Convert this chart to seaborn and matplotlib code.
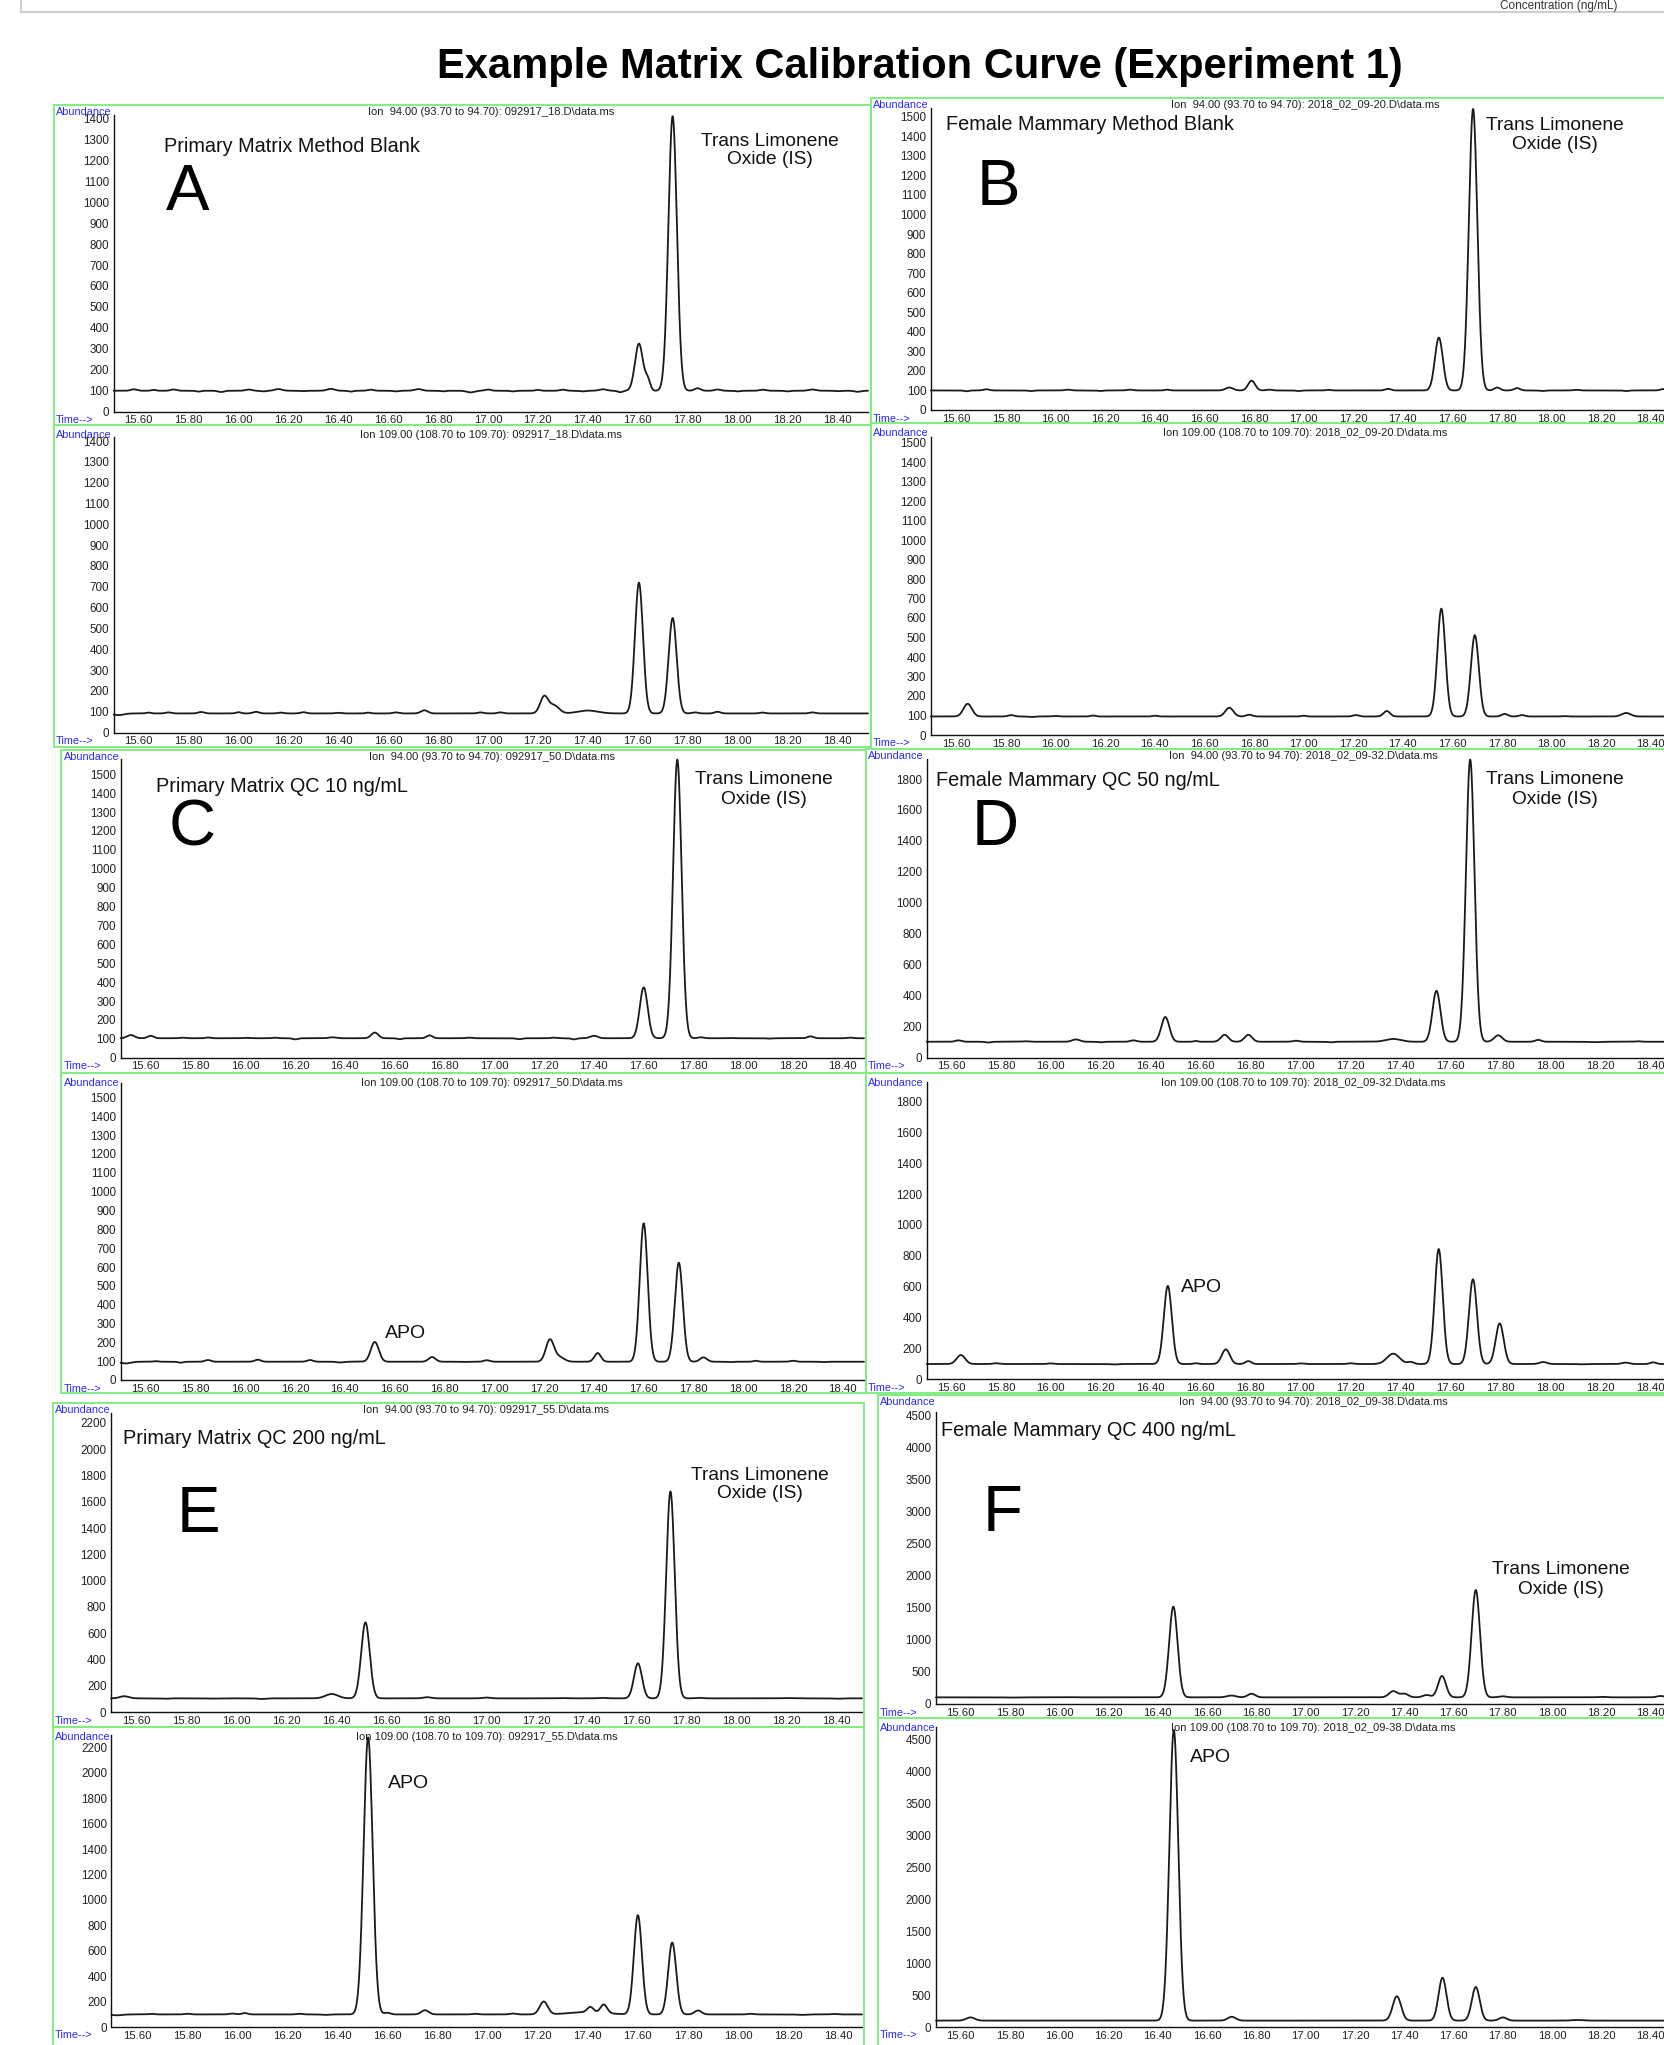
import numpy as np
import pandas as pd
import matplotlib
matplotlib.use("Agg")
import matplotlib.pyplot as plt
import seaborn as sns
from matplotlib.patches import Rectangle
from matplotlib.lines import Line2D
from matplotlib.ticker import MultipleLocator

# ------------------------------------------------------------------ data
TITLE = "Example Matrix Calibration Curve (Experiment 1)"
TOP_STRIP_TEXT = "Concentration (ng/mL)"
panel_letters = ["A", "B", "C", "D", "E", "F"]
sample_names = ["Primary Matrix Method Blank", "Female Mammary Method Blank",
                "Primary Matrix QC 10 ng/mL", "Female Mammary QC 50 ng/mL",
                "Primary Matrix QC 200 ng/mL", "Female Mammary QC 400 ng/mL"]
data_files = ["092917_18.D", "2018_02_09-20.D", "092917_50.D",
              "2018_02_09-32.D", "092917_55.D", "2018_02_09-38.D"]
ion_headers = ["Ion  94.00 (93.70 to 94.70): ", "Ion 109.00 (108.70 to 109.70): "]
is_label = ["Trans Limonene", "Oxide (IS)"]
apo_label = "APO"

x_ticks = [15.60, 15.80, 16.00, 16.20, 16.40, 16.60, 16.80, 17.00,
           17.20, 17.40, 17.60, 17.80, 18.00, 18.20, 18.40]
y_ticks_A = list(range(0, 1401, 100))
y_ticks_B = list(range(0, 1501, 100))
y_ticks_C = list(range(0, 1501, 100))
y_ticks_D = list(range(0, 1801, 200))
y_ticks_E = list(range(0, 2201, 200))
y_ticks_F = list(range(0, 4501, 500))

# peak tables: (retention time, apex abundance, peak sigma)
A94_base = 100
A94_peaks = [(15.58, 107, 0.012), (15.66, 104, 0.010), (15.74, 106, 0.012), (15.84, 96, 0.010),
             (15.93, 94, 0.012), (16.04, 106, 0.012), (16.10, 97, 0.010),
             (16.16, 108, 0.015), (16.26, 98, 0.010), (16.37, 109, 0.015), (16.45, 96, 0.010),
             (16.53, 105, 0.012), (16.63, 97, 0.010), (16.72, 108, 0.015), (16.82, 97, 0.010),
             (16.93, 92, 0.015), (17.00, 106, 0.012), (17.10, 97, 0.010), (17.20, 104, 0.010),
             (17.30, 105, 0.012), (17.38, 97, 0.010), (17.46, 107, 0.015),
             (17.53, 93, 0.010), (17.605, 325, 0.016), (17.64, 150, 0.010), (17.740, 1410, 0.017),
             (17.84, 112, 0.012), (17.92, 106, 0.012), (18.00, 97, 0.010), (18.10, 105, 0.012),
             (18.20, 97, 0.010), (18.30, 106, 0.015), (18.40, 98, 0.010), (18.48, 95, 0.012)]
A109_base = 92
A109_peaks = [(15.52, 84, 0.02), (15.64, 96, 0.010), (15.72, 97, 0.012), (15.85, 99, 0.012),
              (16.00, 98, 0.010), (16.07, 100, 0.012), (16.17, 96, 0.012), (16.26, 98, 0.012),
              (16.40, 95, 0.012), (16.52, 96, 0.010), (16.63, 97, 0.012),
              (16.745, 107, 0.014), (16.97, 97, 0.012), (17.05, 97, 0.012), (17.225, 172, 0.016),
              (17.265, 130, 0.020), (17.40, 106, 0.040), (17.605, 720, 0.016), (17.740, 550, 0.016),
              (17.83, 97, 0.012), (17.92, 100, 0.012), (18.10, 96, 0.012), (18.30, 97, 0.012)]
B94_base = 100
B94_peaks = [(15.64, 96, 0.010), (15.72, 106, 0.012), (15.90, 97, 0.010), (16.05, 104, 0.012),
             (16.18, 97, 0.010), (16.30, 104, 0.012), (16.45, 104, 0.010), (16.70, 115, 0.015),
             (16.79, 150, 0.014), (16.86, 104, 0.012), (16.98, 97, 0.010), (17.10, 103, 0.010),
             (17.34, 108, 0.012), (17.545, 370, 0.016),
             (17.683, 1540, 0.017), (17.78, 115, 0.012), (17.86, 112, 0.012), (17.96, 97, 0.010),
             (18.10, 103, 0.012), (18.30, 97, 0.010), (18.45, 107, 0.012)]
B109_base = 95
B109_peaks = [(15.645, 160, 0.017), (15.82, 102, 0.012), (15.90, 92, 0.010), (16.00, 98, 0.012),
              (16.15, 100, 0.010), (16.40, 99, 0.010), (16.70, 140, 0.016),
              (16.78, 104, 0.012), (17.00, 99, 0.010), (17.21, 102, 0.012), (17.335, 123, 0.013),
              (17.555, 648, 0.016), (17.69, 512, 0.016), (17.81, 108, 0.012), (17.88, 102, 0.012),
              (18.05, 97, 0.010), (18.30, 113, 0.018)]
C94_base = 103
C94_peaks = [(15.54, 120, 0.015), (15.62, 116, 0.012), (15.75, 106, 0.012), (15.85, 107, 0.010),
             (16.00, 105, 0.012), (16.12, 106, 0.010), (16.20, 97, 0.010),
             (16.35, 108, 0.015), (16.52, 133, 0.014), (16.62, 98, 0.010), (16.74, 118, 0.012),
             (16.90, 106, 0.012), (17.10, 98, 0.012), (17.24, 106, 0.012), (17.32, 97, 0.010),
             (17.40, 116, 0.015), (17.60, 372, 0.016), (17.735, 1578, 0.017),
             (17.83, 108, 0.012), (17.95, 104, 0.010), (18.10, 101, 0.010), (18.27, 113, 0.012),
             (18.43, 106, 0.012)]
C109_base = 97
C109_peaks = [(15.52, 88, 0.02), (15.64, 100, 0.010), (15.74, 92, 0.010), (15.85, 106, 0.012),
              (16.05, 108, 0.012), (16.26, 106, 0.012), (16.38, 93, 0.012),
              (16.52, 202, 0.016), (16.75, 122, 0.014), (16.88, 96, 0.010), (16.97, 105, 0.012),
              (17.223, 212, 0.016),
              (17.26, 122, 0.020), (17.415, 143, 0.013), (17.60, 832, 0.016), (17.741, 623, 0.016),
              (17.84, 120, 0.014), (17.95, 95, 0.010), (18.05, 102, 0.010), (18.20, 102, 0.012),
              (18.32, 95, 0.010)]
D94_base = 103
D94_peaks = [(15.63, 112, 0.012), (15.75, 98, 0.010), (15.90, 106, 0.015), (16.10, 118, 0.015),
             (16.20, 99, 0.010), (16.33, 112, 0.012),
             (16.458, 263, 0.016), (16.58, 108, 0.008), (16.695, 148, 0.015), (16.79, 148, 0.015),
             (16.98, 110, 0.012), (17.12, 99, 0.010), (17.37, 121, 0.030), (17.543, 432, 0.016),
             (17.678, 1926, 0.017), (17.79, 145, 0.016), (17.95, 115, 0.012), (18.17, 100, 0.020),
             (18.35, 106, 0.012)]
D109_base = 99
D109_peaks = [(15.64, 157, 0.017), (15.78, 104, 0.012), (16.00, 103, 0.012), (16.25, 96, 0.012),
              (16.468, 605, 0.016), (16.58, 104, 0.010),
              (16.70, 194, 0.016), (16.79, 118, 0.012), (17.00, 103, 0.012), (17.20, 104, 0.012),
              (17.37, 166, 0.025), (17.44, 112, 0.012), (17.552, 844, 0.016), (17.689, 648, 0.016),
              (17.796, 362, 0.016), (17.97, 112, 0.015), (18.12, 97, 0.012), (18.30, 108, 0.015),
              (18.41, 110, 0.012)]
E94_base = 106
E94_peaks = [(15.55, 122, 0.018), (15.72, 103, 0.012), (15.90, 104, 0.020), (16.10, 101, 0.015),
             (16.38, 139, 0.025), (16.515, 683, 0.017),
             (16.76, 115, 0.015), (17.00, 112, 0.015), (17.30, 108, 0.015), (17.46, 110, 0.015),
             (17.605, 372, 0.016), (17.735, 1678, 0.017), (17.85, 110, 0.015), (18.20, 108, 0.020),
             (18.40, 103, 0.015)]
E109_base = 99
E109_peaks = [(15.52, 92, 0.02), (15.66, 103, 0.012), (15.80, 104, 0.012), (15.98, 106, 0.012),
              (16.03, 110, 0.012), (16.25, 104, 0.012), (16.35, 95, 0.012),
              (16.523, 2280, 0.018), (16.60, 112, 0.012), (16.75, 132, 0.015),
              (16.95, 104, 0.012), (17.10, 106, 0.012), (17.224, 200, 0.016), (17.40, 118, 0.070),
              (17.41, 140, 0.012), (17.464, 165, 0.013), (17.60, 880, 0.016), (17.737, 665, 0.016),
              (17.84, 130, 0.014), (18.05, 104, 0.012), (18.25, 95, 0.015), (18.38, 103, 0.012)]
F94_base = 104
F94_peaks = [(15.80, 100, 0.020), (16.05, 106, 0.015), (16.463, 1518, 0.017), (16.698, 132, 0.018),
             (16.78, 160, 0.015),
             (17.355, 200, 0.017), (17.40, 160, 0.016), (17.49, 140, 0.015), (17.553, 437, 0.016),
             (17.69, 1777, 0.017), (17.80, 120, 0.015), (18.20, 112, 0.015), (18.44, 125, 0.015)]
F109_base = 100
F109_peaks = [(15.64, 150, 0.017), (16.465, 4640, 0.018), (16.70, 160, 0.016), (17.37, 480, 0.017),
              (17.555, 770, 0.016), (17.69, 625, 0.016), (17.80, 150, 0.015), (18.10, 110, 0.020)]

# ------------------------------------------------------------------ layout (pixels)
W, H = 1665, 2045
# (sample idx, ion idx, base, peaks, yticks, yminor, frame(l,t,r,b),
#  ax_left, ax_right, y0_px, top_px, yref_px, yref_val, x(15.60)_px, px per 0.2 min)
traces = [
    (0, 0, A94_base, A94_peaks, y_ticks_A, 20, (54, 105, 871, 425), 113.7, 868, 411.7, 115, 118.3, 1400, 138.7, 49.9),
    (0, 1, A109_base, A109_peaks, y_ticks_A, 20, (54, 425, 871, 747), 113.7, 868, 732.6, 437, 441, 1400, 138.7, 49.9),
    (1, 0, B94_base, B94_peaks, y_ticks_B, 20, (871, 98, 1720, 423), 930.8, 1680, 410, 108, 116.7, 1500, 956.5, 49.6),
    (1, 1, B109_base, B109_peaks, y_ticks_B, 20, (871, 423, 1720, 749), 930.8, 1680, 735, 437, 442.5, 1500, 956.5, 49.6),
    (2, 0, C94_base, C94_peaks, y_ticks_C, 20, (61.5, 750, 866, 1073), 120.6, 864, 1057.7, 759, 774.3, 1500, 145.7, 49.8),
    (2, 1, C109_base, C109_peaks, y_ticks_C, 20, (61.5, 1073, 866, 1393), 120.6, 864, 1380, 1083, 1097.5, 1500, 145.7, 49.8),
    (3, 0, D94_base, D94_peaks, y_ticks_D, 40, (866, 749, 1720, 1073), 926.7, 1680, 1057.7, 759.3, 779, 1800, 950.9, 49.98),
    (3, 1, D109_base, D109_peaks, y_ticks_D, 40, (866, 1073, 1720, 1393), 926.7, 1680, 1379.3, 1082, 1101.5, 1800, 950.9, 49.98),
    (4, 0, E94_base, E94_peaks, y_ticks_E, 40, (52.7, 1403, 864.4, 1727), 111, 862, 1712.3, 1413.3, 1422.7, 2200, 136.7, 50.0),
    (4, 1, E109_base, E109_peaks, y_ticks_E, 40, (52.7, 1727, 864.4, 2070), 111.5, 862, 2027, 1735, 1747.5, 2200, 136.9, 50.1),
    (5, 0, F94_base, F94_peaks, y_ticks_F, 100, (878, 1395, 1720, 1718), 936, 1690, 1704, 1411.7, 1415.3, 4500, 960.6, 49.3),
    (5, 1, F109_base, F109_peaks, y_ticks_F, 100, (878, 1718, 1720, 2070), 936, 1690, 2027, 1727, 1739, 4500, 960.6, 49.3),
]
letter_pos = [(166, 210), (977, 205), (169, 846), (972, 845), (177, 1532), (983, 1531)]
name_pos = [(164, 146), (946, 124), (156, 786), (936, 781), (123, 1439), (941, 1430)]
is_pos = [(770, 141, 160), (1555, 126, 145), (764, 780, 799), (1555, 780, 799),
          (760, 1475, 1494), (1561, 1570, 1589)]
apo_pos = {2: (406, 1334), 3: (1202, 1288), 4: (409, 1783), 5: (1211, 1757)}

GREEN = "#80ee80"
BLUE = "#2a2aff"
INK = "#1a1a1a"

sns.set_theme(style="white")
plt.rcParams["font.family"] = ["Liberation Sans", "DejaVu Sans"]
plt.rcParams["axes.linewidth"] = 1.0

fig = plt.figure(figsize=(W / 100, H / 100), dpi=100)
fig.patch.set_facecolor("white")


def fx(x):
    return x / W


def fy(y):
    return 1 - y / H


def trace_values(t, base, peaks):
    y = np.full_like(t, float(base))
    for rt, apex, sig in peaks:
        y = y + (apex - base) * np.exp(-0.5 * ((t - rt) / sig) ** 2)
    return y


for (si, ion, base, peaks, yt, yminor, frame, axl, axr, y0, top, yref_px, yref_val, x60, s) in traces:
    fl, ft, fr, fb = frame
    fig.patches.append(Rectangle((fx(fl), fy(fb)), (fr - fl) / W, (fb - ft) / H,
                                 transform=fig.transFigure, fill=False,
                                 edgecolor=GREEN, linewidth=1.4, zorder=0))
    ax = fig.add_axes([fx(axl), fy(y0), (axr - axl) / W, (y0 - top) / H])
    xmin = 15.60 - (x60 - axl) / s * 0.2
    xmax = 15.60 + (axr - x60) / s * 0.2
    ymax = yref_val * (y0 - top) / (y0 - yref_px)

    t = np.linspace(xmin, xmax, 3000)
    df = pd.DataFrame({"time": t, "abundance": trace_values(t, base, peaks)})
    sns.lineplot(data=df, x="time", y="abundance", ax=ax, color=INK, linewidth=1.3,
                 estimator=None, sort=False)
    for ln in ax.lines:
        ln.set_clip_on(False)

    ax.set_xlim(xmin, xmax)
    ax.set_ylim(0, ymax)
    ax.set_facecolor("none")
    ax.set_xlabel("")
    ax.set_ylabel("")
    for sp in ["top", "right"]:
        ax.spines[sp].set_visible(False)
    for sp in ["left", "bottom"]:
        ax.spines[sp].set_color("#111111")
        ax.spines[sp].set_linewidth(1.0)
    ax.set_xticks(x_ticks, labels=[f"{v:.2f}" for v in x_ticks])
    ax.set_yticks(yt, labels=[str(v) for v in yt])
    ax.xaxis.set_minor_locator(MultipleLocator(0.04))
    ax.yaxis.set_minor_locator(MultipleLocator(yminor))
    ax.tick_params(axis="y", which="major", direction="out", length=3.0, width=0.8,
                   color="#111111", labelsize=8.4, labelcolor="#222222", pad=0.3)
    ax.tick_params(axis="x", which="major", direction="out", length=2.6, width=0.8,
                   color="#111111", labelsize=8.2, labelcolor="#222222", pad=0.0)
    ax.tick_params(axis="both", which="minor", direction="out", length=1.7, width=0.7,
                   color="#111111")

    # ChemStation labels
    hy = ft + (10 if ion == 1 else 7)
    fig.text(fx(fl + 2), fy(hy), "Abundance", color=BLUE, fontsize=7.8,
             ha="left", va="center")
    fig.text(fx(fl + 2), fy(y0 + 8.5), "Time-->", color=BLUE, fontsize=7.8,
             ha="left", va="center")
    fig.text(fx((axl + axr) / 2), fy(hy), ion_headers[ion] + data_files[si] + "\\data.ms",
             color="#222222", fontsize=8.0, ha="center", va="center")

    if ion == 1 and si in apo_pos:
        ax_x, ax_y = apo_pos[si]
        fig.text(fx(ax_x), fy(ax_y), apo_label, fontsize=14, color="#111111",
                 ha="center", va="center")

for i in range(6):
    lx, ly = letter_pos[i]
    fig.text(fx(lx), fy(ly), panel_letters[i], fontsize=47, color="black",
             ha="left", va="baseline",
             family=["Liberation Sans Narrow", "Liberation Sans", "DejaVu Sans"])
    nx, ny = name_pos[i]
    fig.text(fx(nx), fy(ny), sample_names[i], fontsize=14.3, color="#111111",
             ha="left", va="center")
    ix, iy1, iy2 = is_pos[i]
    fig.text(fx(ix), fy(iy1), is_label[0], fontsize=13.8, color="#111111",
             ha="center", va="center")
    fig.text(fx(ix), fy(iy2), is_label[1], fontsize=13.8, color="#111111",
             ha="center", va="center")

# title
fig.text(fx(920), fy(67), TITLE, fontsize=30, fontweight="bold", color="black",
         ha="center", va="center")

# remnant of the figure above (top strip)
fig.add_artist(Line2D([fx(21), fx(21)], [fy(0), fy(12)], transform=fig.transFigure,
                      color="#cfcfcf", linewidth=1.5))
fig.add_artist(Line2D([fx(21), fx(1665)], [fy(12), fy(12)], transform=fig.transFigure,
                      color="#cfcfcf", linewidth=1.5))
fig.text(fx(1500), fy(0.5), TOP_STRIP_TEXT, fontsize=8.5, color="#333333",
         ha="left", va="top")

fig.savefig("out.png", dpi=100, facecolor="white")
